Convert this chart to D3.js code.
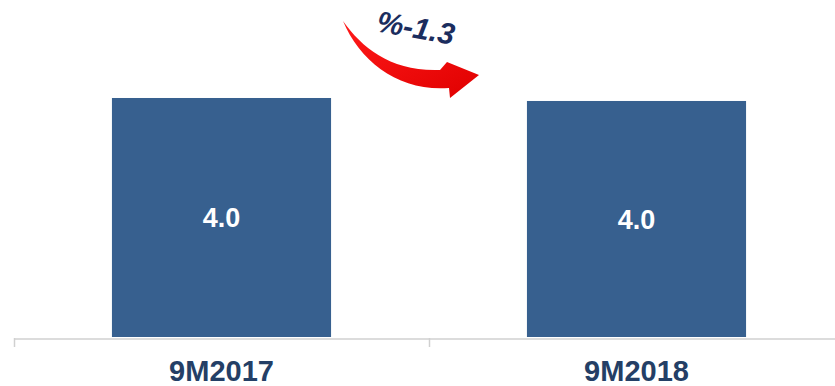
<!DOCTYPE html>
<html><head><meta charset="utf-8">
<script src="https://cdn.jsdelivr.net/npm/d3@7"></script>
<style>body{margin:0;background:#fff}svg{display:block}</style>
</head><body>
<script>
const categories = ["9M2017", "9M2018"];
const values = [4.0, 3.95];
const valueLabels = ["4.0", "4.0"];
const changeLabel = "%-1.3";

const W = 835, H = 386;
const svg = d3.select("body").append("svg").attr("width", W).attr("height", H);

const x = d3.scaleBand().domain(categories).range([14, 844]).padding(0);
const y = d3.scaleLinear().domain([0, 5.64]).range([337, 0]);
const barW = x.bandwidth() * 0.528;

svg.selectAll("rect.bar").data(values).join("rect")
  .attr("class", "bar")
  .attr("x", (d, i) => x(categories[i]) + (x.bandwidth() - barW) / 2)
  .attr("width", barW)
  .attr("y", d => y(d))
  .attr("height", d => y(0) - y(d))
  .attr("fill", "#37608f");

svg.selectAll("text.val").data(values).join("text")
  .attr("class", "val")
  .attr("x", (d, i) => x(categories[i]) + x.bandwidth() / 2)
  .attr("y", d => (y(d) + y(0)) / 2 + 10)
  .attr("text-anchor", "middle")
  .attr("fill", "#fff")
  .attr("font-family", "Liberation Sans, Arial, sans-serif")
  .attr("font-weight", "bold")
  .attr("font-size", 27)
  .text((d, i) => valueLabels[i]);

// axis
const axis = d3.axisBottom(x).tickSize(0).tickFormat("");
const gx = svg.append("g").attr("transform", "translate(0,338.5)").call(axis);
gx.select(".domain").attr("stroke", "#d0d0d0").attr("stroke-width", 1.5);
const bounds = [14, 429];
svg.selectAll("line.tk").data(bounds).join("line")
  .attr("x1", d => d + 0.5).attr("x2", d => d + 0.5)
  .attr("y1", 338).attr("y2", 347)
  .attr("stroke", "#d0d0d0").attr("stroke-width", 1.5);

svg.selectAll("text.cat").data(categories).join("text")
  .attr("class", "cat")
  .attr("x", d => x(d) + x.bandwidth() / 2)
  .attr("y", 381)
  .attr("text-anchor", "middle")
  .attr("fill", "#243f66")
  .attr("font-family", "Liberation Sans, Arial, sans-serif")
  .attr("font-weight", "bold")
  .attr("font-size", 29)
  .text(d => d);

// arrow
const grad = svg.append("defs").append("linearGradient").attr("id", "rg")
  .attr("x1", "0").attr("y1", "0").attr("x2", "1").attr("y2", "1");
grad.append("stop").attr("offset", "0").attr("stop-color", "#ff1a1a");
grad.append("stop").attr("offset", "1").attr("stop-color", "#e00000");
svg.append("path")
  .attr("d", "M343,21 C362,48 392,72 440,70 L447,62 L479,75 L450,98 L449,88 C400,92 360,62 343,21 Z")
  .attr("fill", "url(#rg)");

svg.append("text")
  .attr("transform", "translate(414,38) rotate(10)")
  .attr("text-anchor", "middle")
  .attr("fill", "#1b2d5e")
  .attr("font-family", "Liberation Sans, Arial, sans-serif")
  .attr("font-weight", "bold")
  .attr("font-style", "italic")
  .attr("font-size", 30)
  .text(changeLabel);
</script>
</body></html>
